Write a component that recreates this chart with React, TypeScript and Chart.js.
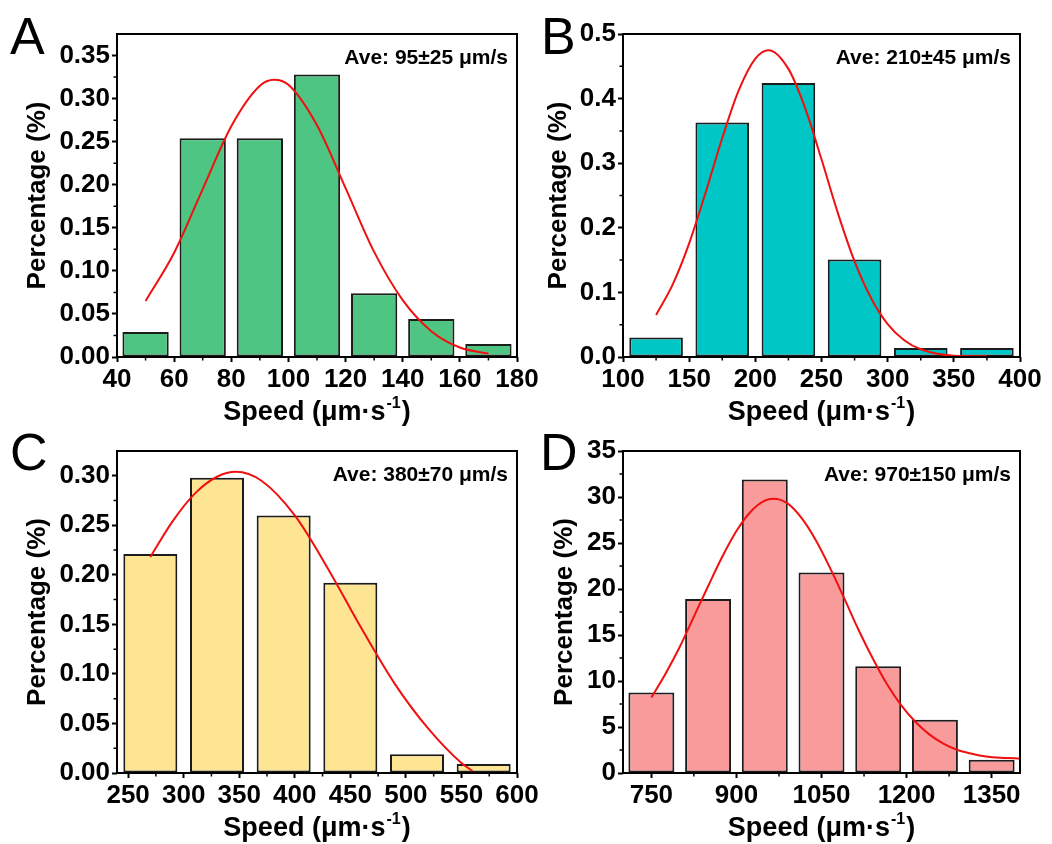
import React, { useEffect, useRef } from 'react';
import { Chart, registerables } from 'chart.js';

Chart.register(...registerables);

const FONT = '"Liberation Sans", Arial, Helvetica, sans-serif';

// ---------- Panel A ----------
const binsA = [50, 70, 90, 110, 130, 150, 170];
const pctA = [0.029, 0.254, 0.254, 0.328, 0.074, 0.044, 0.015];
const fitXA = [50, 60, 70, 80, 90, 95, 100, 110, 120, 130, 140, 150, 160, 170];
const fitYA = [0.065, 0.121, 0.195, 0.268, 0.315, 0.322, 0.316, 0.269, 0.196, 0.122, 0.066, 0.030, 0.011, 0.004];
const xTicksA = [40, 60, 80, 100, 120, 140, 160, 180];
const yTicksA = [0, 0.05, 0.1, 0.15, 0.2, 0.25, 0.3, 0.35];
const yLabelsA = ['0.00', '0.05', '0.10', '0.15', '0.20', '0.25', '0.30', '0.35'];

// ---------- Panel B ----------
const binsB = [125, 175, 225, 275, 325, 375];
const pctB = [0.030, 0.363, 0.424, 0.151, 0.014, 0.014];
const fitXB = [125, 137.5, 150, 162.5, 175, 187.5, 200, 210, 225, 237.5, 250, 262.5, 275, 287.5, 300, 312.5, 325, 350, 375];
const fitYB = [0.065, 0.112, 0.176, 0.255, 0.339, 0.413, 0.462, 0.475, 0.446, 0.386, 0.306, 0.222, 0.148, 0.091, 0.051, 0.026, 0.012, 0.002, 0.001];
const xTicksB = [100, 150, 200, 250, 300, 350, 400];
const yTicksB = [0, 0.1, 0.2, 0.3, 0.4, 0.5];
const yLabelsB = ['0.0', '0.1', '0.2', '0.3', '0.4', '0.5'];

// ---------- Panel C ----------
const binsC = [270, 330, 390, 450, 510, 570];
const pctC = [0.221, 0.298, 0.260, 0.192, 0.019, 0.009];
const fitXC = [270, 290, 310, 330, 347, 370, 400, 430, 460, 490, 520, 550, 560];
const fitYC = [0.218, 0.254, 0.282, 0.299, 0.304, 0.295, 0.260, 0.206, 0.146, 0.090, 0.045, 0.010, 0.002];
const xTicksC = [250, 300, 350, 400, 450, 500, 550, 600];
const yTicksC = [0, 0.05, 0.1, 0.15, 0.2, 0.25, 0.3];
const yLabelsC = ['0.00', '0.05', '0.10', '0.15', '0.20', '0.25', '0.30'];

// ---------- Panel D ----------
const binsD = [750, 850, 950, 1050, 1150, 1250, 1350];
const pctD = [8.75, 18.9, 31.9, 21.8, 11.6, 5.8, 1.45];
const fitXD = [750, 775, 800, 825, 850, 875, 900, 925, 950, 965, 990, 1015, 1040, 1065, 1090, 1115, 1140, 1165, 1190, 1215, 1240, 1265, 1290, 1315, 1340, 1365, 1390, 1400];
const fitYD = [8.2, 10.8, 13.7, 17.0, 20.3, 23.5, 26.3, 28.4, 29.6, 29.8, 29.3, 27.7, 25.3, 22.3, 19.0, 15.6, 12.5, 9.7, 7.4, 5.6, 4.2, 3.2, 2.5, 2.1, 1.8, 1.65, 1.6, 1.57];
const xTicksD = [750, 900, 1050, 1200, 1350];
const yTicksD = [0, 5, 10, 15, 20, 25, 30, 35];
const yLabelsD = ['0', '5', '10', '15', '20', '25', '30', '35'];

const notes = ['Ave: 95±25 μm/s', 'Ave: 210±45 μm/s', 'Ave: 380±70 μm/s', 'Ave: 970±150 μm/s'];
const letters = ['A', 'B', 'C', 'D'];

type PanelSpec = {
  letter: string;
  note: string;
  bins: number[];
  pct: number[];
  fitX: number[];
  fitY: number[];
  xTicks: number[];
  yTicks: number[];
  yLabels: string[];
  xMin: number;
  xMax: number;
  yMax: number;
  color: string;
  // layout
  left: number;
  top: number;
  width: number;
  height: number;
  axisW: number;
  padR: number;
  padT: number;
  axisH: number;
  letterX: number;
  letterY: number;
  yTitleX: number;
  xTitleOff: number;
};

function midpoints(ticks: number[], min: number, max: number): number[] {
  const out: number[] = [];
  for (let i = 0; i < ticks.length - 1; i++) out.push((ticks[i] + ticks[i + 1]) / 2);
  const step = ticks[1] - ticks[0];
  const before = ticks[0] - step / 2;
  const after = ticks[ticks.length - 1] + step / 2;
  if (before > min) out.push(before);
  if (after < max) out.push(after);
  return out;
}

const decorPlugin = {
  id: 'decor',
  afterDraw(chart: any, _args: any, opts: any) {
    const { ctx, chartArea: a, scales } = chart;
    const xs = scales.x;
    const ys = scales.y;
    ctx.save();
    // frame
    ctx.strokeStyle = '#000';
    ctx.lineWidth = 2;
    ctx.strokeRect(a.left, a.top, a.right - a.left, a.bottom - a.top);
    // minor ticks
    ctx.lineWidth = 1.5;
    ctx.beginPath();
    (opts.xMinor as number[]).forEach((v) => {
      const p = xs.getPixelForValue(v);
      ctx.moveTo(p, a.bottom);
      ctx.lineTo(p, a.bottom + 3.5);
    });
    (opts.yMinor as number[]).forEach((v) => {
      const p = ys.getPixelForValue(v);
      ctx.moveTo(a.left, p);
      ctx.lineTo(a.left - 3.5, p);
    });
    ctx.stroke();

    ctx.fillStyle = '#000';
    // panel letter
    ctx.font = `52px ${FONT}`;
    ctx.textAlign = 'left';
    ctx.textBaseline = 'alphabetic';
    ctx.fillText(opts.letter, opts.letterX, opts.letterY);

    // annotation
    ctx.font = `bold 21px ${FONT}`;
    ctx.textAlign = 'right';
    ctx.fillText(opts.note, a.right - 9, a.top + 30);

    // y title
    ctx.save();
    ctx.translate(opts.yTitleX, (a.top + a.bottom) / 2);
    ctx.rotate(-Math.PI / 2);
    ctx.font = `bold 26px ${FONT}`;
    ctx.textAlign = 'center';
    ctx.textBaseline = 'middle';
    ctx.fillText('Percentage (%)', 0, 0);
    ctx.restore();

    // x title with superscript
    const main = 'Speed (μm·s';
    const sup = '-1';
    const end = ')';
    ctx.textAlign = 'left';
    ctx.textBaseline = 'alphabetic';
    ctx.font = `bold 27px ${FONT}`;
    const w1 = ctx.measureText(main).width;
    const w3 = ctx.measureText(end).width;
    ctx.font = `bold 16px ${FONT}`;
    const w2 = ctx.measureText(sup).width;
    const total = w1 + w2 + w3 + 2;
    let x = (a.left + a.right) / 2 - total / 2;
    const y = a.bottom + opts.xTitleOff;
    ctx.font = `bold 27px ${FONT}`;
    ctx.fillText(main, x, y);
    x += w1 + 1;
    ctx.font = `bold 16px ${FONT}`;
    ctx.fillText(sup, x, y - 12);
    x += w2 + 1;
    ctx.font = `bold 27px ${FONT}`;
    ctx.fillText(end, x, y);
    ctx.restore();
  },
};

const panels: PanelSpec[] = [
  {
    letter: letters[0], note: notes[0], bins: binsA, pct: pctA, fitX: fitXA, fitY: fitYA,
    xTicks: xTicksA, yTicks: yTicksA, yLabels: yLabelsA, xMin: 40, xMax: 180, yMax: 0.375,
    color: '#4ec583',
    left: 0, top: 0, width: 545, height: 440, axisW: 117, padR: 28, padT: 34, axisH: 83,
    letterX: 10, letterY: 54, yTitleX: 38, xTitleOff: 63,
  },
  {
    letter: letters[1], note: notes[1], bins: binsB, pct: pctB, fitX: fitXB, fitY: fitYB,
    xTicks: xTicksB, yTicks: yTicksB, yLabels: yLabelsB, xMin: 100, xMax: 400, yMax: 0.5,
    color: '#00c6c6',
    left: 526, top: 0, width: 526, height: 440, axisW: 97, padR: 32, padT: 34, axisH: 83,
    letterX: 15, letterY: 54, yTitleX: 33, xTitleOff: 63,
  },
  {
    letter: letters[2], note: notes[2], bins: binsC, pct: pctC, fitX: fitXC, fitY: fitYC,
    xTicks: xTicksC, yTicks: yTicksC, yLabels: yLabelsC, xMin: 240, xMax: 600, yMax: 0.325,
    color: '#fee594',
    left: 0, top: 422, width: 545, height: 422, axisW: 117, padR: 28, padT: 29, axisH: 71,
    letterX: 10, letterY: 48, yTitleX: 38, xTitleOff: 63,
  },
  {
    letter: letters[3], note: notes[3], bins: binsD, pct: pctD, fitX: fitXD, fitY: fitYD,
    xTicks: xTicksD, yTicks: yTicksD, yLabels: yLabelsD, xMin: 700, xMax: 1400, yMax: 35,
    color: '#fa9b9b',
    left: 526, top: 422, width: 526, height: 422, axisW: 97, padR: 32, padT: 29, axisH: 71,
    letterX: 14, letterY: 48, yTitleX: 39, xTitleOff: 63,
  },
];

function Panel({ spec }: { spec: PanelSpec }) {
  const ref = useRef<HTMLCanvasElement | null>(null);
  useEffect(() => {
    if (!ref.current) return;
    const s = spec;
    const tickFont = { family: FONT, size: 26, weight: 'bold' as const };
    // Chart.js sizes bars from the smallest spacing among bar positions and ticks;
    // scale the bar fraction so that each bar spans ~81% of its bin.
    const binStep = s.bins[1] - s.bins[0];
    const tickStep = s.xTicks[1] - s.xTicks[0];
    const barPct = (0.81 * binStep) / Math.min(binStep, tickStep);
    const chart = new Chart(ref.current, {
      type: 'bar',
      data: {
        datasets: [
          {
            type: 'line' as const,
            data: s.fitX.map((x, i) => ({ x, y: s.fitY[i] })),
            borderColor: '#f01010',
            borderWidth: 2,
            pointRadius: 0,
            fill: false,
            tension: 0.4,
            cubicInterpolationMode: 'monotone' as const,
            order: 0,
          },
          {
            type: 'bar' as const,
            data: s.bins.map((x, i) => ({ x, y: s.pct[i] })),
            backgroundColor: s.color,
            borderColor: '#1c1c1c',
            borderWidth: 2,
            borderSkipped: false,
            barPercentage: barPct,
            categoryPercentage: 1,
            order: 1,
          },
        ] as any,
      },
      options: {
        responsive: false,
        animation: false,
        layout: { padding: { left: 0, right: s.padR, top: s.padT, bottom: 0 } },
        plugins: {
          legend: { display: false },
          tooltip: { enabled: false },
          decor: {
            letter: s.letter,
            letterX: s.letterX,
            letterY: s.letterY,
            note: s.note,
            yTitleX: s.yTitleX,
            xTitleOff: s.xTitleOff,
            xMinor: midpoints(s.xTicks, s.xMin, s.xMax),
            yMinor: midpoints(s.yTicks, 0, s.yMax),
          },
        } as any,
        scales: {
          x: {
            type: 'linear',
            min: s.xMin,
            max: s.xMax,
            offset: false,
            afterBuildTicks: (sc: any) => {
              sc.ticks = s.xTicks.map((v) => ({ value: v }));
            },
            afterFit: (sc: any) => {
              sc.height = s.axisH;
            },
            grid: {
              offset: false,
              drawOnChartArea: false,
              drawTicks: true,
              tickLength: 5,
              tickWidth: 2,
              tickColor: '#000',
            },
            border: { display: false },
            ticks: {
              font: tickFont,
              color: '#000',
              padding: 2,
              maxRotation: 0,
              autoSkip: false,
              callback: (v: any) => String(v),
            },
          },
          y: {
            type: 'linear',
            min: 0,
            max: s.yMax,
            afterBuildTicks: (sc: any) => {
              sc.ticks = s.yTicks.map((v) => ({ value: v }));
            },
            afterFit: (sc: any) => {
              sc.width = s.axisW;
            },
            grid: {
              drawOnChartArea: false,
              drawTicks: true,
              tickLength: 5,
              tickWidth: 2,
              tickColor: '#000',
            },
            border: { display: false },
            ticks: {
              font: tickFont,
              color: '#000',
              padding: 2,
              autoSkip: false,
              callback: (_v: any, i: number) => s.yLabels[i],
            },
          },
        } as any,
      },
      plugins: [decorPlugin as any],
    });
    return () => chart.destroy();
  }, [spec]);
  return (
    <canvas
      ref={ref}
      width={spec.width}
      height={spec.height}
      style={{ position: 'absolute', left: spec.left, top: spec.top, width: spec.width, height: spec.height }}
    />
  );
}

export default function App() {
  return (
    <div style={{ position: 'fixed', left: 0, top: 0, width: 1052, height: 844, background: '#fff', overflow: 'hidden' }}>
      {panels.map((p) => (
        <Panel key={p.letter} spec={p} />
      ))}
    </div>
  );
}
